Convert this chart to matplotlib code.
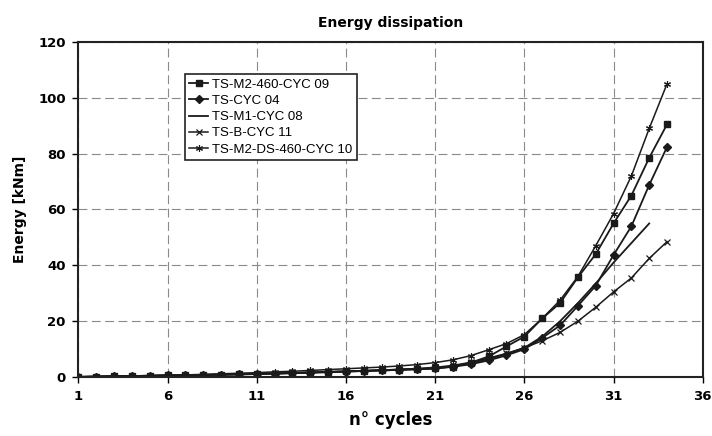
# Energy dissipation - curvas de energia por ciclo
import matplotlib
matplotlib.use('Agg')
import matplotlib.pyplot as plt

cycles = list(range(1, 35))

ts_m2_460 = [0.1, 0.2, 0.3, 0.4, 0.5, 0.6, 0.7, 0.8, 0.9, 1.0, 1.2, 1.3, 1.5, 1.7, 1.9, 2.1,
             2.3, 2.5, 2.7, 2.9, 3.1, 3.8, 5.2, 7.4, 11.0, 14.5, 21.0, 26.5, 35.7, 44.0,
             55.0, 65.0, 78.5, 90.5]
ts_cyc04 = [0.1, 0.2, 0.3, 0.4, 0.5, 0.6, 0.7, 0.8, 0.9, 1.0, 1.1, 1.3, 1.4, 1.6, 1.8, 2.0,
            2.2, 2.4, 2.6, 2.8, 3.1, 3.7, 4.6, 6.0, 7.8, 10.0, 14.0, 18.5, 25.5, 32.7,
            43.7, 54.0, 68.8, 82.4]
ts_m1_08 = [0.1, 0.2, 0.3, 0.4, 0.5, 0.6, 0.7, 0.8, 0.9, 1.0, 1.1, 1.3, 1.4, 1.6, 1.8, 2.0,
            2.2, 2.4, 2.6, 2.9, 3.2, 3.9, 5.0, 6.5, 8.3, 10.5, 14.5, 20.0, 26.5, 33.5,
            41.0, 48.0, 55.0]
ts_b_11 = [0.1, 0.2, 0.3, 0.4, 0.5, 0.6, 0.7, 0.8, 0.9, 1.0, 1.2, 1.3, 1.5, 1.7, 1.9, 2.1,
           2.3, 2.5, 2.8, 3.1, 3.5, 4.2, 5.3, 6.8, 8.5, 10.5, 13.0, 16.0, 20.0, 25.0,
           30.5, 35.5, 42.5, 48.5]
ts_m2_ds = [0.1, 0.2, 0.3, 0.4, 0.5, 0.7, 0.8, 1.0, 1.2, 1.4, 1.6, 1.9, 2.1, 2.4, 2.7, 3.0,
            3.3, 3.6, 4.0, 4.5, 5.2, 6.2, 7.7, 9.8, 12.0, 15.2, 21.0, 27.5, 36.0, 47.0,
            58.5, 72.0, 89.0, 105.0]

fig = plt.figure(figsize=(7.12, 4.36), dpi=100)
ax = fig.add_axes([0.110, 0.135, 0.877, 0.769])

cor = '#1a1a1a'
ax.plot(cycles, ts_m2_460, color=cor, lw=1.3, marker='s', ms=4, label='TS-M2-460-CYC 09')
ax.plot(cycles, ts_cyc04, color=cor, lw=1.3, marker='D', ms=4, label='TS-CYC 04')
ax.plot(cycles[:len(ts_m1_08)], ts_m1_08, color=cor, lw=1.3, label='TS-M1-CYC 08')
ax.plot(cycles, ts_b_11, color=cor, lw=1.1, marker='x', ms=5, mew=0.9, label='TS-B-CYC 11')
ax.plot(cycles, ts_m2_ds, color=cor, lw=1.1, marker=(6, 2, 0), ms=5, mew=0.8,
        label='TS-M2-DS-460-CYC 10')

ax.set_xlim(1, 36)
ax.set_ylim(0, 120)
ax.set_xticks(range(1, 37, 5))
ax.set_yticks(range(0, 121, 20))
ax.grid(True, color='#8a8a8a', linestyle=(0, (8, 4)), linewidth=0.8)

for sp in ax.spines.values():
    sp.set_linewidth(1.5)
    sp.set_color('#222222')
ax.tick_params(direction='out', length=4, width=1, labelsize=9.5, pad=5)
for lab in ax.get_xticklabels() + ax.get_yticklabels():
    lab.set_fontweight('bold')

ax.set_xlabel('n° cycles', fontsize=12, fontweight='bold', labelpad=6)
ax.set_ylabel('Energy [kNm]', fontsize=10, fontweight='bold', labelpad=8)
ax.set_title('Energy dissipation', fontsize=10, fontweight='bold', pad=11)

leg = ax.legend(loc='upper left', bbox_to_anchor=(0.160, 0.924), fancybox=False,
                edgecolor='#222222', framealpha=1, handlelength=1.4, handletextpad=0.3,
                labelspacing=0.3, borderpad=0.35,
                prop={'family': 'Liberation Sans', 'size': 9.5})
leg.get_frame().set_linewidth(1.2)

fig.savefig('out.png', dpi=100)
